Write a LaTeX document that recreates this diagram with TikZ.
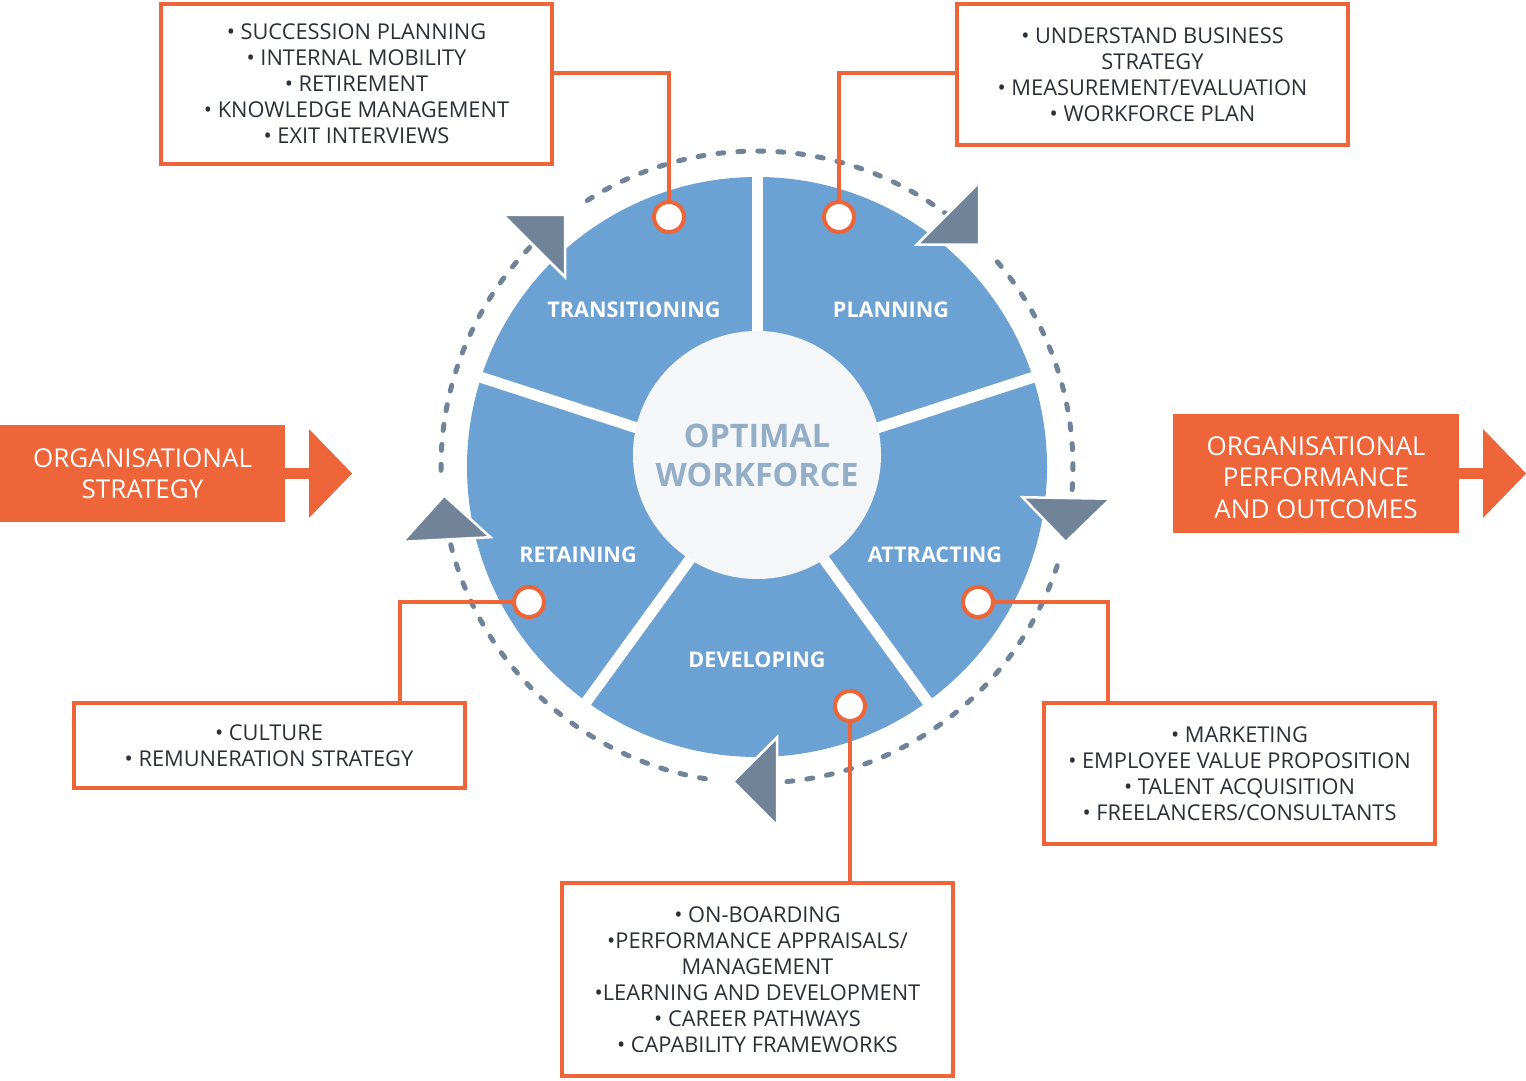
\documentclass[tikz,border=0pt]{standalone}
\usepackage{fontspec}
\setmainfont{Open Sans}
\usetikzlibrary{arrows.meta}
\definecolor{wforange}{HTML}{EE6539}
\definecolor{wfblue}{HTML}{6BA1D3}
\definecolor{wfcore}{HTML}{F4F6F8}
\definecolor{wfcoretext}{HTML}{93AEC6}
\definecolor{wfslate}{HTML}{718399}
\definecolor{wftext}{HTML}{2B3036}
\begin{document}
\begin{tikzpicture}[x=1pt,y=1pt,
	stage/.style={text=white,font=\fontsize{21.6}{25}\selectfont\bfseries},
	core/.style={circle,fill=wfcore,minimum size=248pt,inner sep=0pt,align=center,text=wfcoretext,font=\fontsize{32.3}{39}\selectfont\bfseries},
	itembox/.style={draw=wforange,line width=4pt,fill=white,text=wftext,align=center,minimum width=391pt,inner sep=0pt,font=\fontsize{21.8}{26}\selectfont},
	flowbox/.style={fill=wforange,text=white,align=center,inner sep=0pt,text depth=0pt,font=\fontsize{26}{31.5}\selectfont},
	flowarrow/.style={wforange,line width=11pt,-{Triangle[length=43pt,width=86pt]}},
	tiein/.style={wforange,line width=3.5pt},
	tiedot/.style={circle,draw=wforange,line width=4pt,fill=white,minimum size=30pt,inner sep=0pt},
	gapline/.style={white,line width=11pt},
	cycledash/.style={wfslate,line width=5pt,line cap=round,dash pattern=on 6pt off 14pt},
	cyclehead/.style={fill=wfslate,draw=white,line width=2.5pt,line join=miter}]
	\useasboundingbox (0,0) rectangle (1526,1080);
	\coordinate (hub) at (757,613);
	% dashed ring and its arrow heads
	\foreach \s/\e in {122.5/53,40.5/-5.7,-18.2/-86.4,-99.4/-166.9,-179.4/-224.7}
		\draw[cycledash] (hub) ++(\s:316) arc[start angle=\s,end angle=\e,radius=316];
	% wheel
	\fill[wfblue] (hub) circle (290);
	\foreach \a in {90,18,-54,-126,162}
		\draw[gapline] (hub) -- ++(\a:296);
	\node[core] (core) at (757,625) {OPTIMAL\\WORKFORCE};
	\node[stage] (transitioning) at (634,770) {TRANSITIONING};
	\node[stage] (planning) at (891,770) {PLANNING};
	\node[stage] (attracting) at (935,525) {ATTRACTING};
	\node[stage] (developing) at (757,420) {DEVELOPING};
	\node[stage] (retaining) at (578,525) {RETAINING};
	\foreach \p/\d in {{534,834}/45,{948,866.5}/-45,{1066.5,582}/-91,{777,298.5}/180,{446.5,540.5}/93}
		\filldraw[cyclehead,shift={(\p)},rotate=\d] (0,44) -- (44,0) -- (0,-44) -- cycle;
	% item boxes
	\node[itembox,minimum height=160pt] (transbox) at (356.5,996) {• SUCCESSION PLANNING\\• INTERNAL MOBILITY\\• RETIREMENT\\• KNOWLEDGE MANAGEMENT\\• EXIT INTERVIEWS};
	\node[itembox,minimum height=141pt] (planbox) at (1152.5,1005.5) {• UNDERSTAND BUSINESS\\STRATEGY\\• MEASUREMENT/EVALUATION\\• WORKFORCE PLAN};
	\node[itembox,minimum height=141pt] (attrbox) at (1239.5,306.5) {• MARKETING\\• EMPLOYEE VALUE PROPOSITION\\• TALENT ACQUISITION\\• FREELANCERS/CONSULTANTS};
	\node[itembox,minimum height=193pt] (devbox) at (757.5,100.5) {• ON-BOARDING\\•PERFORMANCE APPRAISALS/\\MANAGEMENT\\•LEARNING AND DEVELOPMENT\\• CAREER PATHWAYS\\• CAPABILITY FRAMEWORKS};
	\node[itembox,minimum height=85pt] (retbox) at (269,334.5) {• CULTURE\\• REMUNERATION STRATEGY};
	% tie-ins
	\node[tiedot] (transdot) at (669,863) {};
	\node[tiedot] (plandot) at (839,863) {};
	\node[tiedot] (attrdot) at (978,478) {};
	\node[tiedot] (devdot) at (850,374) {};
	\node[tiedot] (retdot) at (529,478) {};
	\draw[tiein] (transdot.north) |- (transbox.east |- 0,1007);
	\draw[tiein] (plandot.north) |- (planbox.west |- 0,1007);
	\draw[tiein] (attrdot.east) -| (1108,0 |- attrbox.north);
	\draw[tiein] (devdot.south) -- (devdot |- devbox.north);
	\draw[tiein] (retdot.west) -| (400,0 |- retbox.north);
	% strategy in, outcomes out
	\node[flowbox,minimum width=285pt,minimum height=97pt] (strategy) at (142.5,606.5) {ORGANISATIONAL\\STRATEGY};
	\draw[flowarrow] (strategy.east) -- ++(67,0);
	\node[flowbox,text height=89.5pt,minimum width=286pt,minimum height=119pt] (outcomes) at (1316,606.5) {ORGANISATIONAL\\PERFORMANCE\\AND OUTCOMES};
	\draw[flowarrow] (outcomes.east) -- ++(67,0);
\end{tikzpicture}
\end{document}
